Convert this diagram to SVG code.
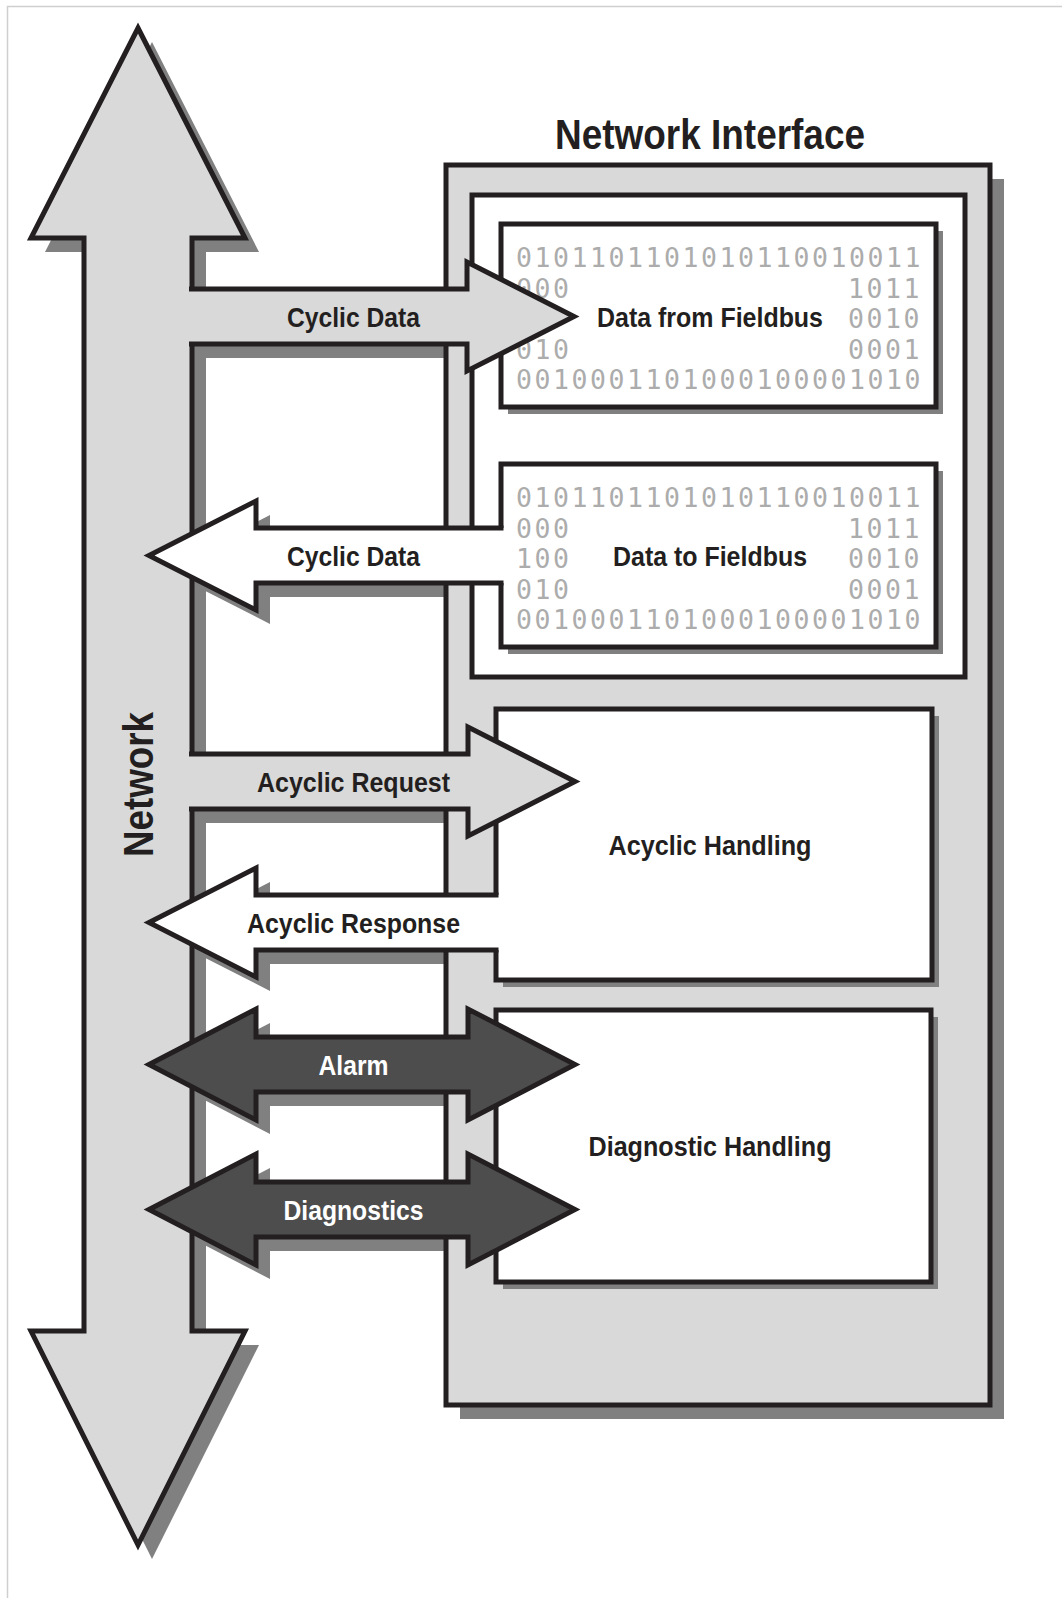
<svg xmlns="http://www.w3.org/2000/svg" width="1062" height="1598" viewBox="0 0 1062 1598">
<style>
.ol{stroke:#231f20;stroke-width:5;stroke-linejoin:miter;stroke-miterlimit:6}
.lg{fill:#d9d9d9}
.wh{fill:#ffffff}
.dk{fill:#4d4d4d}
.sh{fill:#808080}
.lbl{font-family:"Liberation Sans",Arial,Helvetica,sans-serif;font-weight:bold;font-size:28px;fill:#231f20;text-anchor:middle}
.wl{fill:#ffffff}
.big{font-family:"Liberation Sans",Arial,Helvetica,sans-serif;font-weight:bold;font-size:43px;fill:#231f20;text-anchor:middle}
.bin{font-family:"DejaVu Sans Mono",monospace;font-size:26.5px;fill:#acacac;letter-spacing:2.55px}
</style>
<defs>
<path id="netShape" d="M138,28 L245,238 L192,238 L192,1331 L245,1331 L138,1545 L31,1331 L84,1331 L84,238 L31,238 Z"/>
<path id="cycR" d="M189,289 H467 V262 L574,316.5 L467,371 V344 H189 Z"/>
<path id="acqR" d="M189,754 H468 V727 L575,781.5 L468,836 V809 H189 Z"/>
<path id="cycL" d="M504,528 H256 V501 L149,555.5 L256,610 V583 H504 Z"/>
<path id="acyL" d="M499,895 H256 V868 L149,922.5 L256,977 V950 H499 Z"/>
<path id="alarm" d="M256,1037 H468 V1009 L575,1064.5 L468,1120 V1092 H256 V1120 L149,1064.5 L256,1009 Z"/>
<path id="diag" d="M256,1182 H468 V1154 L575,1209.5 L468,1265 V1237 H256 V1265 L149,1209.5 L256,1154 Z"/>
</defs>

<path id="frame" d="M7.5,1598 V6.5 H1062" fill="none" stroke="#cfcfcf" stroke-width="1.5"/>

<g id="shadows" class="sh" transform="translate(14,14)">
<use href="#netShape"/>
<use href="#cycR"/>
<use href="#acqR"/>
<use href="#cycL"/>
<use href="#acyL"/>
<use href="#alarm"/>
<use href="#diag"/>
<rect x="446" y="165" width="544" height="1240"/>
</g>

<g id="network-interface">
<rect class="lg ol" x="446" y="165" width="544" height="1240"/>
<text class="big" x="710" y="149" textLength="310" lengthAdjust="spacingAndGlyphs">Network Interface</text>
<rect class="wh ol" x="472" y="195" width="493" height="482"/>
</g>

<g id="data-from-fieldbus">
<rect class="sh" x="508" y="231" width="435" height="183"/>
<rect class="wh ol" x="501" y="224" width="435" height="183"/>
<text class="bin" x="516" y="267">0101101101010110010011</text>
<text class="bin" x="516" y="297.5">000</text>
<text class="bin" x="848" y="297.5">1011</text>
<text class="bin" x="848" y="328">0010</text>
<text class="bin" x="516" y="358.5">010</text>
<text class="bin" x="848" y="358.5">0001</text>
<text class="bin" x="516" y="389">0010001101000100001010</text>
<text class="lbl" x="710" y="327" textLength="226" lengthAdjust="spacingAndGlyphs">Data from Fieldbus</text>
</g>

<g id="data-to-fieldbus">
<rect class="sh" x="508" y="471" width="435" height="183"/>
<rect class="wh ol" x="501" y="464" width="435" height="183"/>
<text class="bin" x="516" y="507">0101101101010110010011</text>
<text class="bin" x="516" y="537.5">000</text>
<text class="bin" x="848" y="537.5">1011</text>
<text class="bin" x="516" y="568">100</text>
<text class="bin" x="848" y="568">0010</text>
<text class="bin" x="516" y="598.5">010</text>
<text class="bin" x="848" y="598.5">0001</text>
<text class="bin" x="516" y="629">0010001101000100001010</text>
<text class="lbl" x="710" y="566" textLength="194" lengthAdjust="spacingAndGlyphs">Data to Fieldbus</text>
</g>

<g id="acyclic-handling">
<rect class="sh" x="503" y="716" width="436" height="271"/>
<rect class="wh ol" x="496" y="709" width="436" height="271"/>
<text class="lbl" x="710" y="855" textLength="203" lengthAdjust="spacingAndGlyphs">Acyclic Handling</text>
</g>

<g id="diagnostic-handling">
<rect class="sh" x="503" y="1017" width="435" height="272"/>
<rect class="wh ol" x="496" y="1010" width="435" height="272"/>
<text class="lbl" x="710" y="1156" textLength="243" lengthAdjust="spacingAndGlyphs">Diagnostic Handling</text>
</g>

<g id="network">
<path class="lg ol" d="M138,28 L245,238 L192,238 L192,1331 L245,1331 L138,1545 L31,1331 L84,1331 L84,238 L31,238 Z"/>
<text class="big" transform="translate(153,784.5) rotate(-90)" font-size="44" textLength="145" lengthAdjust="spacingAndGlyphs">Network</text>
</g>

<g id="connectors">
<g id="cyclic-data-out">
<path class="lg" d="M189,289 H467 V262 L574,316.5 L467,371 V344 H189 Z"/>
<path class="ol" fill="none" d="M189,289 H467 V262 L574,316.5 L467,371 V344 H189"/>
<text class="lbl" x="353.5" y="327" textLength="133" lengthAdjust="spacingAndGlyphs">Cyclic Data</text>
</g>
<g id="cyclic-data-in">
<path class="wh" d="M504,528 H256 V501 L149,555.5 L256,610 V583 H504 Z"/>
<path class="ol" fill="none" d="M503.5,528 H256 V501 L149,555.5 L256,610 V583 H503.5"/>
<text class="lbl" x="353.5" y="566" textLength="133" lengthAdjust="spacingAndGlyphs">Cyclic Data</text>
</g>
<g id="acyclic-request">
<path class="lg" d="M189,754 H468 V727 L575,781.5 L468,836 V809 H189 Z"/>
<path class="ol" fill="none" d="M189,754 H468 V727 L575,781.5 L468,836 V809 H189"/>
<text class="lbl" x="353.5" y="792" textLength="193" lengthAdjust="spacingAndGlyphs">Acyclic Request</text>
</g>
<g id="acyclic-response">
<path class="wh" d="M499,895 H256 V868 L149,922.5 L256,977 V950 H499 Z"/>
<path class="ol" fill="none" d="M498.5,895 H256 V868 L149,922.5 L256,977 V950 H498.5"/>
<text class="lbl" x="353.5" y="933" textLength="213" lengthAdjust="spacingAndGlyphs">Acyclic Response</text>
</g>
<g id="alarm-arrow">
<path class="dk ol" d="M256,1037 H468 V1009 L575,1064.5 L468,1120 V1092 H256 V1120 L149,1064.5 L256,1009 Z"/>
<text class="lbl wl" x="353.5" y="1075" textLength="70" lengthAdjust="spacingAndGlyphs">Alarm</text>
</g>
<g id="diagnostics-arrow">
<path class="dk ol" d="M256,1182 H468 V1154 L575,1209.5 L468,1265 V1237 H256 V1265 L149,1209.5 L256,1154 Z"/>
<text class="lbl wl" x="353.5" y="1220" textLength="140" lengthAdjust="spacingAndGlyphs">Diagnostics</text>
</g>
</g>
</svg>
